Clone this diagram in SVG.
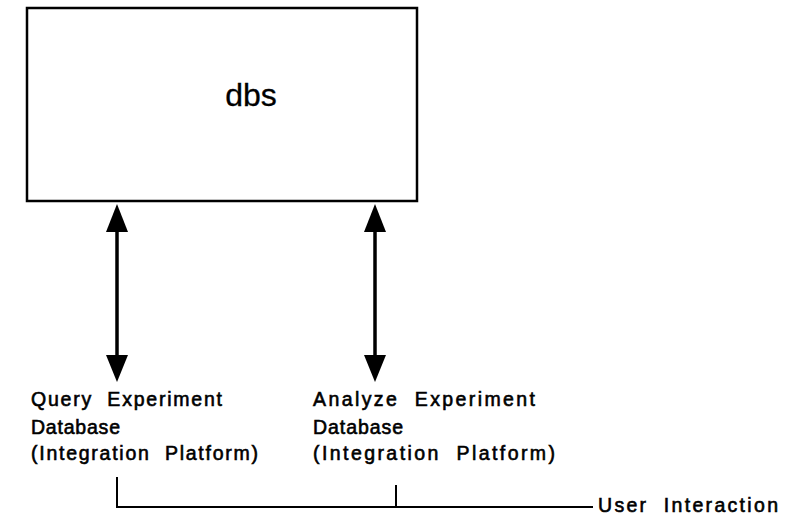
<svg xmlns="http://www.w3.org/2000/svg" width="805" height="519" viewBox="0 0 805 519">
  <style>
    .frame { fill: #fff; stroke: #000; stroke-width: 2.5; }
    .wire { fill: none; stroke: #000; stroke-width: 2; }
    .shaft { fill: none; stroke: #000; stroke-width: 3.5; }
    .head { fill: #000; stroke: none; }
    .lbl { font-family: "Liberation Sans", Arial, sans-serif; font-size: 19.5px; fill: #000; stroke: #000; stroke-width: 0.6; white-space: pre; }
    .title { font-family: "Liberation Sans", Arial, sans-serif; font-size: 32px; fill: #000; stroke: #000; stroke-width: 0.3; }
  </style>
  <rect width="805" height="519" fill="#fff"/>

  <!-- central database system -->
  <g id="dbs">
    <rect class="frame" x="27" y="8" width="390" height="193"/>
    <text class="title" x="251" y="106" text-anchor="middle">dbs</text>
  </g>

  <!-- query tool -->
  <g id="query">
    <text class="lbl" x="31" y="406" textLength="191" lengthAdjust="spacing" xml:space="preserve">Query  Experiment</text>
    <text class="lbl" x="31" y="433.5" textLength="89" lengthAdjust="spacing">Database</text>
    <text class="lbl" x="31" y="460" textLength="227" lengthAdjust="spacing" xml:space="preserve">(Integration  Platform)</text>
  </g>

  <!-- analysis tool -->
  <g id="analyze">
    <text class="lbl" x="313" y="406" textLength="222" lengthAdjust="spacing" xml:space="preserve">Analyze  Experiment</text>
    <text class="lbl" x="313" y="433.5" textLength="90" lengthAdjust="spacing">Database</text>
    <text class="lbl" x="313" y="460" textLength="242" lengthAdjust="spacing" xml:space="preserve">(Integration  Platform)</text>
  </g>

  <!-- user interaction label -->
  <g id="user">
    <text class="lbl" x="598" y="512" textLength="180" lengthAdjust="spacing" xml:space="preserve">User  Interaction</text>
  </g>

  <g id="connectors">
    <!-- two-way link dbs <-> query -->
    <line class="shaft" x1="117" y1="228" x2="117" y2="358"/>
    <polygon class="head" points="117,204 106,232 128,232"/>
    <polygon class="head" points="106,355 128,355 117,382"/>
    <!-- two-way link dbs <-> analyze -->
    <line class="shaft" x1="375" y1="228" x2="375" y2="358"/>
    <polygon class="head" points="375,204 364,232 386,232"/>
    <polygon class="head" points="364,355 386,355 375,382"/>
    <!-- bracket joining both tools to user interaction -->
    <polyline class="wire" points="117,477 117,507 593,507"/>
    <line class="wire" x1="396" y1="485" x2="396" y2="507"/>
  </g>
</svg>
